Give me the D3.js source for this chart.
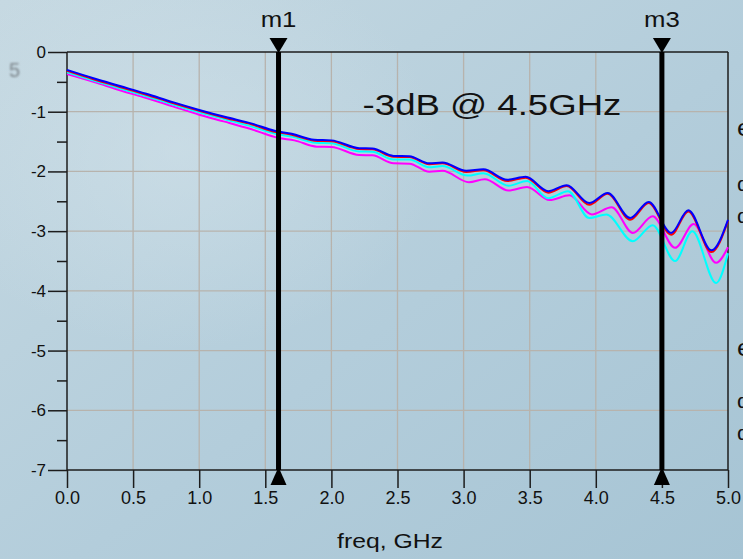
<!DOCTYPE html>
<html>
<head>
<meta charset="utf-8">
<script src="https://cdn.jsdelivr.net/npm/d3@7"></script>
<style>
  html, body { margin: 0; padding: 0; overflow: hidden; }
  svg { display: block; font-family: "Liberation Sans", Arial, sans-serif; }
</style>
</head>
<body>
<svg id="chart" width="743" height="559"></svg>
<script>
// Insertion loss traces, dB vs frequency (GHz)
const freqBlue = [0, 0.2, 0.4, 0.6, 0.8, 1.0, 1.2, 1.4, 1.57, 1.7, 1.87, 2.0, 2.21, 2.31, 2.47, 2.59, 2.74, 2.84, 3.02, 3.15, 3.33, 3.47, 3.64, 3.78, 3.95, 4.09, 4.26, 4.40, 4.57, 4.70, 4.875, 5.0];
const dbBlue   = [-0.30, -0.44, -0.57, -0.70, -0.84, -0.97, -1.09, -1.20, -1.32, -1.37, -1.47, -1.48, -1.61, -1.615, -1.74, -1.745, -1.865, -1.85, -1.99, -1.965, -2.14, -2.09, -2.33, -2.23, -2.53, -2.36, -2.78, -2.51, -3.03, -2.65, -3.32, -2.81];
const freqRed  = freqBlue;
const dbRed    = [-0.315, -0.455, -0.585, -0.715, -0.855, -0.985, -1.105, -1.215, -1.335, -1.385, -1.485, -1.495, -1.625, -1.63, -1.755, -1.76, -1.88, -1.865, -2.01, -1.98, -2.16, -2.105, -2.355, -2.245, -2.56, -2.375, -2.81, -2.53, -3.06, -2.67, -3.35, -2.83];
const freqMagenta = [0, 0.2, 0.4, 0.6, 0.8, 1.0, 1.2, 1.39, 1.6, 1.72, 1.89, 2.0, 2.21, 2.31, 2.47, 2.59, 2.74, 2.84, 3.04, 3.16, 3.34, 3.48, 3.65, 3.80, 3.97, 4.12, 4.28, 4.43, 4.60, 4.74, 4.91, 5.0];
const dbMagenta   = [-0.37, -0.50, -0.64, -0.77, -0.91, -1.05, -1.17, -1.29, -1.44, -1.48, -1.585, -1.59, -1.725, -1.73, -1.865, -1.87, -2.005, -1.99, -2.18, -2.13, -2.32, -2.26, -2.48, -2.40, -2.72, -2.60, -3.03, -2.75, -3.28, -2.88, -3.53, -3.27];
const freqCyan = [0, 0.2, 0.4, 0.6, 0.8, 1.0, 1.2, 1.4, 1.58, 1.71, 1.88, 2.0, 2.21, 2.31, 2.47, 2.59, 2.74, 2.84, 3.03, 3.15, 3.34, 3.48, 3.64, 3.79, 3.95, 4.08, 4.28, 4.43, 4.60, 4.73, 4.91, 5.0];
const dbCyan   = [-0.34, -0.48, -0.61, -0.74, -0.88, -1.01, -1.13, -1.25, -1.37, -1.42, -1.52, -1.53, -1.665, -1.67, -1.80, -1.80, -1.93, -1.91, -2.07, -2.03, -2.24, -2.16, -2.45, -2.33, -2.78, -2.72, -3.17, -2.90, -3.50, -3.00, -3.87, -3.37];

const xTicks = [0, 0.5, 1.0, 1.5, 2.0, 2.5, 3.0, 3.5, 4.0, 4.5, 5.0];
const yTicks = [0, -1, -2, -3, -4, -5, -6, -7];
const yMinorTicks = [-0.5, -1.5, -2.5, -3.5, -4.5, -5.5, -6.5];

const markerFreqs = [1.6, 4.5];
const markerNames = ["m1", "m3"];

const xLabel = "freq, GHz";
const note = "-3dB @ 4.5GHz";

const svg = d3.select("#chart");
const W = 743, H = 559;

// Background
const defs = svg.append("defs");
const bg = defs.append("linearGradient").attr("id", "bg").attr("x1", "0").attr("y1", "0").attr("x2", "1").attr("y2", "1");
bg.append("stop").attr("offset", "0%").attr("stop-color", "#c6d9e2");
bg.append("stop").attr("offset", "55%").attr("stop-color", "#b3cddb");
bg.append("stop").attr("offset", "100%").attr("stop-color", "#a6c4d4");
const glow = defs.append("radialGradient").attr("id", "glow");
glow.append("stop").attr("offset", "0%").attr("stop-color", "#d2e2ea").attr("stop-opacity", 0.55);
glow.append("stop").attr("offset", "100%").attr("stop-color", "#d2e2ea").attr("stop-opacity", 0);
const blur = defs.append("filter").attr("id", "soft");
blur.append("feGaussianBlur").attr("stdDeviation", 0.9);

svg.append("rect").attr("width", W).attr("height", H).attr("fill", "url(#bg)");
svg.append("ellipse").attr("cx", 180).attr("cy", 150).attr("rx", 260).attr("ry", 200).attr("fill", "url(#glow)");

const x = d3.scaleLinear().domain([0, 5]).range([67, 728]);
const y = d3.scaleLinear().domain([-7, 0]).range([470, 52]);

// Grid
const grid = svg.append("g").attr("stroke", "#b7b3ad").attr("stroke-width", 1.3);
grid.selectAll(".gx").data(xTicks.slice(1, -1)).join("line")
  .attr("x1", d => x(d)).attr("x2", d => x(d)).attr("y1", y(0)).attr("y2", y(-7));
grid.selectAll(".gy").data(yTicks.slice(1, -1)).join("line")
  .attr("x1", x(0)).attr("x2", x(5)).attr("y1", d => y(d)).attr("y2", d => y(d));

// Frame
const ink = "#1c1c1c";
svg.append("line").attr("x1", x(0)).attr("x2", x(5)).attr("y1", y(0)).attr("y2", y(0)).attr("stroke", ink).attr("stroke-width", 1.5);
svg.append("line").attr("x1", x(5)).attr("x2", x(5)).attr("y1", y(0)).attr("y2", y(-7)).attr("stroke", ink).attr("stroke-width", 1.5);

// Axes
const yAxis = d3.axisLeft(y).tickValues(yTicks).tickSize(19).tickPadding(2).tickFormat(d => String(d));
const gy = svg.append("g").attr("transform", `translate(${x(0)},0)`).call(yAxis);
gy.select(".domain").remove();
gy.append("line").attr("x1", 0).attr("x2", 0).attr("y1", y(0)).attr("y2", y(-7)).attr("stroke", ink).attr("stroke-width", 1.5);
gy.selectAll(".tick line").attr("stroke", ink).attr("stroke-width", 1.5);
gy.selectAll(".tick text").attr("font-size", 17).attr("fill", "#111").attr("font-family", "Liberation Sans, Arial, sans-serif");
const yMinor = d3.axisLeft(y).tickValues(yMinorTicks).tickSize(10).tickFormat("");
const gyMinor = svg.append("g").attr("transform", `translate(${x(0)},0)`).call(yMinor);
gyMinor.select(".domain").remove();
gyMinor.selectAll(".tick line").attr("stroke", ink).attr("stroke-width", 1.5);

const xAxis = d3.axisBottom(x).tickValues(xTicks).tickSize(18).tickPadding(3).tickFormat(d => d.toFixed(1));
const gx = svg.append("g").attr("transform", `translate(0,${y(-7)})`).call(xAxis);
gx.select(".domain").remove();
gx.append("line").attr("x1", x(0)).attr("x2", x(5)).attr("y1", 0).attr("y2", 0).attr("stroke", ink).attr("stroke-width", 1.5);
gx.selectAll(".tick line").attr("stroke", ink).attr("stroke-width", 1.5);
gx.selectAll(".tick text").attr("font-size", 18).attr("fill", "#111").attr("font-family", "Liberation Sans, Arial, sans-serif");

// Stretched text helper
function label(txt, cx, by, size, sx, anchor) {
  svg.append("text")
    .attr("transform", `translate(${cx},${by}) scale(${sx},1)`)
    .attr("text-anchor", anchor || "middle")
    .attr("font-size", size)
    .attr("fill", "#111")
    .text(txt);
}

label(xLabel, 390, 548, 21, 1.18);
label(note, 492, 115, 30, 1.22);

// Traces
const traces = [
  { f: freqMagenta, v: dbMagenta, color: "#ff00ff" },
  { f: freqCyan, v: dbCyan, color: "#00ffff" },
  { f: freqRed, v: dbRed, color: "#ff0000" },
  { f: freqBlue, v: dbBlue, color: "#0000ff" }
];
const line = d3.line().x(d => x(d[0])).y(d => y(d[1])).curve(d3.curveMonotoneX);
svg.append("g").selectAll("path").data(traces).join("path")
  .attr("d", t => line(t.f.map((f, i) => [f, t.v[i]])))
  .attr("fill", "none")
  .attr("stroke", t => t.color)
  .attr("stroke-width", 2);

// Markers
const mk = svg.append("g").selectAll("g").data(markerFreqs).join("g")
  .attr("transform", d => `translate(${x(d)},0)`);
mk.append("line").attr("y1", y(0)).attr("y2", y(-7)).attr("stroke", "#000").attr("stroke-width", 5);
mk.append("path").attr("d", `M-9,${y(0) - 14}L9,${y(0) - 14}L0,${y(0) + 1}Z`).attr("fill", "#000");
mk.append("path").attr("d", `M0,${y(-7) - 3}L-8,${y(-7) + 15}L8,${y(-7) + 15}Z`).attr("fill", "#000");
markerFreqs.forEach((f, i) => label(markerNames[i], x(f), 27, 23, 1.12));

// Readout text running off the right edge
const edgeText = [
  { t: "e", yb: 136, s: 24 }, { t: "d", yb: 191, s: 20 }, { t: "d", yb: 223, s: 20 },
  { t: "e", yb: 356, s: 24 }, { t: "d", yb: 408, s: 20 }, { t: "d", yb: 440, s: 20 }
];
edgeText.forEach(e => label(e.t, 737, e.yb, e.s, 1.1, "start"));

// Faint glyph at left
svg.append("text").attr("x", 9).attr("y", 77).attr("font-size", 20).attr("fill", "#7d868c")
  .attr("filter", "url(#soft)").text("5");
</script>
</body>
</html>
